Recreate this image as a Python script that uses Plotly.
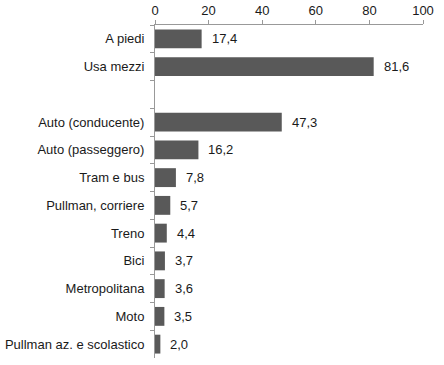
import plotly.graph_objects as go

categories = ["A piedi", "Usa mezzi", " ", "Auto (conducente)", "Auto (passeggero)",
              "Tram e bus", "Pullman, corriere", "Treno", "Bici", "Metropolitana",
              "Moto", "Pullman az. e scolastico"]
values = [17.4, 81.6, None, 47.3, 16.2, 7.8, 5.7, 4.4, 3.7, 3.6, 3.5, 2.0]
x_ticks = [0, 20, 40, 60, 80, 100]

labels = [("" if v is None else f"{v:.1f}".replace(".", ",")) for v in values]

FONT = "Liberation Sans, Arial, sans-serif"

fig = go.Figure()
fig.add_trace(go.Bar(
    x=values, y=categories, orientation="h",
    marker=dict(color="#595959", line=dict(width=0)),
    width=0.68, hoverinfo="skip",
))

for c, v, t in zip(categories, values, labels):
    if v is None:
        continue
    fig.add_annotation(x=v, y=c, text=t, showarrow=False, xanchor="left",
                       xshift=8, font=dict(size=13, color="#1a1a1a", family=FONT))

fig.update_layout(
    width=444, height=365,
    margin=dict(l=155, r=21, t=25, b=7),
    paper_bgcolor="white", plot_bgcolor="white",
    showlegend=False,
    font=dict(family=FONT, size=13, color="#1a1a1a"),
    xaxis=dict(side="top", range=[0, 100], tickvals=x_ticks, ticks="outside",
               ticklen=4, tickcolor="#999999", showline=True, linecolor="#999999",
               linewidth=1, showgrid=False, zeroline=False, fixedrange=True,
               automargin=False),
    yaxis=dict(type="category", categoryorder="array", categoryarray=categories,
               autorange="reversed", ticks="outside", ticklen=4, tickcolor="#999999",
               tickson="boundaries", showline=True, linecolor="#999999", linewidth=1,
               showgrid=False, zeroline=False, ticklabelstandoff=7, automargin=False,
               fixedrange=True),
)

fig.write_html("out.html", config={"displayModeBar": False, "staticPlot": True},
               post_script="document.body.style.margin='0';document.body.style.overflow='hidden';")
